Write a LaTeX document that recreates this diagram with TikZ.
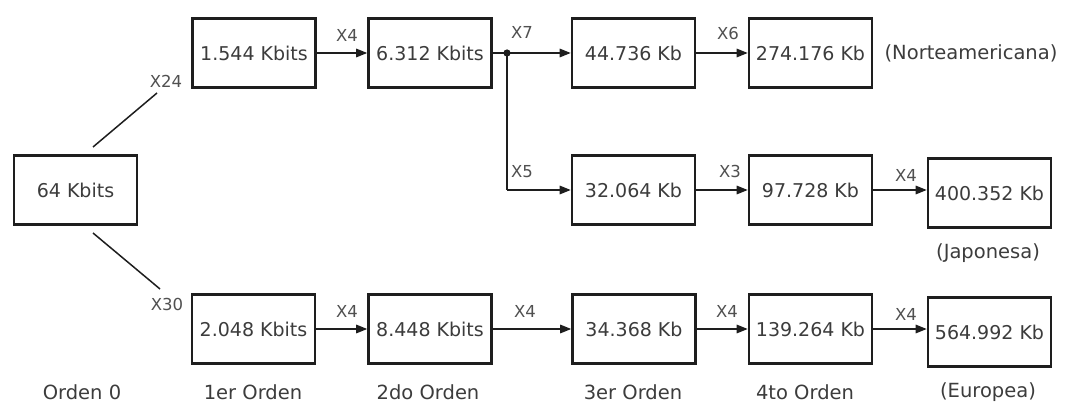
\documentclass[tikz,border=0pt]{standalone}
\usepackage{fontspec}
\setmainfont{DejaVu Sans}
\usetikzlibrary{arrows.meta}
\definecolor{txt}{HTML}{3C3C3C}
\definecolor{lbl}{HTML}{505050}
\definecolor{edge}{HTML}{1E1E1E}
\tikzset{
  box/.style={draw=edge, line width=2.6pt, minimum width=123pt, minimum height=69pt,
    inner sep=0pt, text=txt, font=\fontsize{19}{22}\selectfont},
  lab/.style={text=lbl, font=\fontsize{16.5}{19}\selectfont, inner sep=0pt},
  ord/.style={text=txt, font=\fontsize{19.5}{22}\selectfont, inner sep=0pt},
  conn/.style={draw=edge, line width=1.5pt},
  arr/.style={conn, -{Triangle[length=11pt,width=8.5pt]}}
}
\begin{document}
\begin{tikzpicture}[x=1pt,y=-1pt]
\useasboundingbox[fill=white] (0,0) rectangle (1089,403);
% boxes
\node[box] (n64) at (75.5,190) {64 Kbits};
\node[box] (a1) at (254,53) {1.544 Kbits};
\node[box] (a2) at (430,53) {6.312 Kbits};
\node[box] (a3) at (633.5,53) {44.736 Kb};
\node[box] (a4) at (810.5,53) {274.176 Kb};
\node[box] (b3) at (633.5,190) {32.064 Kb};
\node[box] (b4) at (810.5,190) {97.728 Kb};
\node[box] (b5) at (989.5,193) {400.352 Kb};
\node[box] (c1) at (253.5,329) {2.048 Kbits};
\node[box] (c2) at (430,329) {8.448 Kbits};
\node[box] (c3) at (634,329) {34.368 Kb};
\node[box] (c4) at (810.5,329) {139.264 Kb};
\node[box] (c5) at (989.5,332) {564.992 Kb};
% side labels
\node[ord] (nor) at (971,53) {(Norteamericana)};
\node[ord] (jap) at (988,253) {(Japonesa)};
\node[ord] (o0) at (82,392) {Orden 0};
\node[ord] (o1) at (253,392) {1er Orden};
\node[ord] (o2) at (428,392) {2do Orden};
\node[ord] (o3) at (633,392) {3er Orden};
\node[ord] (o4) at (805,392) {4to Orden};
\node[ord] (eur) at (988,392) {(Europea)};
% branch lines from 64 Kbits
\coordinate (p1) at (93,147);
\coordinate (p2) at (157,93);
\coordinate (q1) at (93,233);
\coordinate (q2) at (160,289);
\draw[conn] (p1) -- (p2);
\draw[conn] (q1) -- (q2);
\node[lab] (x24) at (166,81) {X24};
\node[lab] (x30) at (167,304) {X30};
% top row
\draw[arr] (a1.east) -- (a2.west);
\node[lab] (l1) at (347,35) {X4};
\coordinate (j) at (507,53);
\coordinate (jb) at (507,190);
\draw[conn] (a2.east) -- (j);
\draw[arr] (j) -- (a3.west);
\draw[conn] (j) -- (jb);
\draw[arr] (jb) -- (b3.west);
\fill[edge] (j) circle (3.6pt);
\node[lab] (x7) at (522,32) {X7};
\node[lab] (x5) at (522,172) {X5};
\draw[arr] (a3.east) -- (a4.west);
\node[lab] (x6) at (728,33) {X6};
% middle row
\draw[arr] (b3.east) -- (b4.west);
\node[lab] (x3) at (730,171) {X3};
\draw[arr] (b4.east) -- (b4.east -| b5.west);
\node[lab] (l2) at (906,175) {X4};
% bottom row
\draw[arr] (c1.east) -- (c2.west);
\node[lab] (l3) at (347,311) {X4};
\draw[arr] (c2.east) -- (c3.west);
\node[lab] (l4) at (525,311) {X4};
\draw[arr] (c3.east) -- (c4.west);
\node[lab] (l5) at (727,311) {X4};
\draw[arr] (c4.east) -- (c4.east -| c5.west);
\node[lab] (l6) at (906,314) {X4};
\end{tikzpicture}
\end{document}
